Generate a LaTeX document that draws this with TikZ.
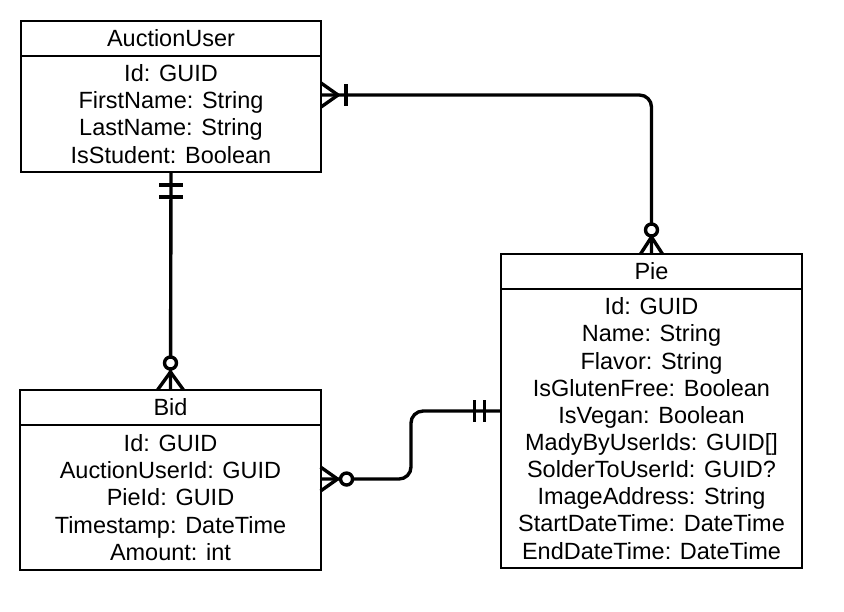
\documentclass[tikz,border=0pt]{standalone}
\usepackage{fontspec}
\setmainfont{Liberation Sans}
\usetikzlibrary{positioning,calc}

\begin{document}
\begin{tikzpicture}[x=0.025cm,y=-0.025cm,
entity/.style={draw,rectangle,line width=1.4pt,outer sep=0pt,minimum width=7.5cm,minimum height=0.875cm,font=\fontsize{16.7}{19.3}\selectfont},
fields/.style={entity,align=center},
link/.style={line width=2.4pt},
ring/.style={link,fill=white}]

\useasboundingbox (0,0) rectangle (844,612);

\draw (171,21) node[entity,anchor=north] (user) {AuctionUser};
\node[fields,minimum height=2.9cm,below=0pt of user] (userbody) {Id: GUID\\FirstName: String\\LastName: String\\IsStudent: Boolean};
\draw (170.5,390) node[entity,anchor=north] (bid) {Bid};
\node[fields,minimum height=3.625cm,below=0pt of bid] (bidbody) {Id: GUID\\AuctionUserId: GUID\\PieId: GUID\\Timestamp: DateTime\\Amount: int};
\draw (651.5,254) node[entity,anchor=north] (pie) {Pie};
\node[fields,minimum height=6.975cm,below=0pt of pie] (piebody) {Id: GUID\\Name: String\\Flavor: String\\IsGlutenFree: Boolean\\IsVegan: Boolean\\MadyByUserIds: GUID[]\\SolderToUserId: GUID?\\ImageAddress: String\\StartDateTime: DateTime\\EndDateTime: DateTime};

\coordinate (ua) at ([yshift=0.475cm]userbody.east);
\coordinate (be) at ([yshift=0.4625cm]bidbody.east);
\coordinate (pl) at ([yshift=0.4375cm]piebody.west);

% relations
\draw[link,rounded corners=0.3cm] (ua) -| (pie.north);
\draw[link] (userbody.south) -- (bid.north);
\draw[link,rounded corners=0.3cm] (be) -| ($(be)!0.5!(pl)$) |- (pl);

% AuctionUser -> Pie
\draw[link,line join=round] ([shift={(0,-12)}]ua) -- ++(17,12) -- ++(-17,12);
\draw[link] ([shift={(25,-11)}]ua) -- ++(0,22);
\draw[link,line join=round] ([shift={(-11,0)}]pie.north) -- ++(11,-17) -- ++(11,17);
\draw[ring] ([shift={(0,-24)}]pie.north) circle[radius=0.15cm];

% AuctionUser -> Bid
\draw[link] ([shift={(-12,13)}]userbody.south) -- ++(24,0);
\draw[link] ([shift={(-12,25)}]userbody.south) -- ++(24,0);
\draw[link,line join=round] ([shift={(-13,0)}]bid.north) -- ++(13,-18) -- ++(13,18);
\draw[ring] ([shift={(0,-27)}]bid.north) circle[radius=0.15cm];

% Bid -> Pie
\draw[link,line join=round] ([shift={(0,-12)}]be) -- ++(17,12) -- ++(-17,12);
\draw[ring] ([shift={(26,0)}]be) circle[radius=0.15cm];
\draw[link] ([shift={(-17,-11)}]pl) -- ++(0,22);
\draw[link] ([shift={(-27,-11)}]pl) -- ++(0,22);
\end{tikzpicture}
\end{document}
